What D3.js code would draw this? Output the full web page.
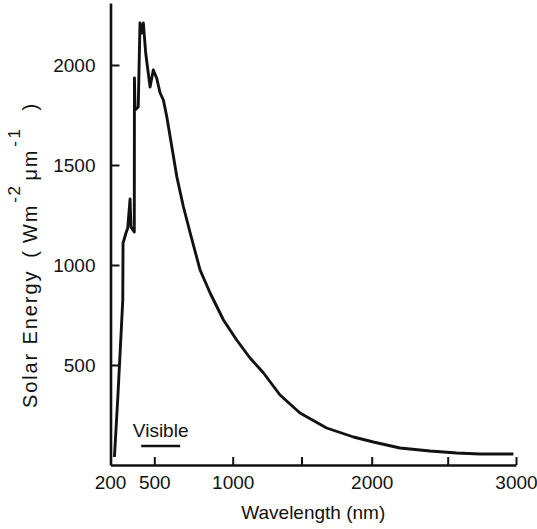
<!DOCTYPE html>
<html>
<head>
<meta charset="utf-8">
<script src="https://cdn.jsdelivr.net/npm/d3@7"></script>
<style>
  body { margin: 0; background: #fff; }
  text { font-family: "Liberation Sans", Arial, sans-serif; fill: #111; }
</style>
</head>
<body>
<div id="chart"></div>
<script>
// spectrum: wavelength (nm) and solar energy (W m-2 um-1)
let wavelength = [227, 251, 272, 284, 286, 306, 318, 334, 340, 363, 364, 368, 390, 402, 414, 425,
                  441, 471, 493, 515, 537, 558, 580, 612, 644, 686, 729, 792, 856, 941, 1029,
                  1126, 1224, 1344, 1489, 1679, 1870, 2011, 2186, 2384, 2566, 2737, 2981];
let energy = [40, 350, 650, 825, 1110, 1160, 1185, 1330, 1190, 1165, 1935, 1775, 1790, 2210, 2160, 2210,
              2060, 1890, 1975, 1935, 1860, 1825, 1740, 1590, 1440, 1290, 1160, 975, 860, 725, 625,
              535, 460, 350, 260, 185, 140, 115, 85, 70, 60, 55, 55];

let xTicks = [500, 1000, 1500, 2000, 2500, 3000];
let xLabels = [200, 500, 1000, 2000, 3000];
let yTicks = [500, 1000, 1500, 2000];
let visibleBand = [410, 665];
let visibleLevel = 95;

let width = 537, height = 529;

let svg = d3.select("#chart")
    .append("svg")
    .attr("width", width)
    .attr("height", height);

// the drawn axis is not quite even, so the scale follows the tick marks
let x = d3.scaleLinear()
    .domain([200, 500, 1000, 1500, 2000, 2500, 3000])
    .range([110.5, 154.3, 232.7, 301.5, 371.7, 447.7, 516]);

let y = d3.scaleLinear()
    .domain([0, 2310])
    .range([465, 3]);

let data = wavelength.map((w, i) => ({w: w, e: energy[i]}));

let xAxis = svg.append("g")
    .attr("transform", `translate(0,${y(0)})`)
    .call(d3.axisBottom(x)
        .tickValues(xTicks)
        .tickSizeInner(-8)
        .tickSizeOuter(0)
        .tickPadding(11)
        .tickFormat(d => xLabels.includes(d) ? d : ""));

// 200 sits at the corner without a tick
xAxis.append("text")
    .attr("x", x(200))
    .attr("y", 11)
    .attr("dy", "0.71em")
    .attr("text-anchor", "middle")
    .text("200");

let yAxis = svg.append("g")
    .attr("transform", `translate(${x(200)},0)`)
    .call(d3.axisLeft(y)
        .tickValues(yTicks)
        .tickSizeInner(-9)
        .tickSizeOuter(0)
        .tickPadding(15)
        .tickFormat(d => d));

svg.selectAll(".domain")
    .attr("stroke", "#111")
    .attr("stroke-width", 2.6);
svg.selectAll(".tick line")
    .attr("stroke", "#111")
    .attr("stroke-width", 2);
xAxis.selectAll("text")
    .style("font-size", "19px")
    .attr("fill", "#111");
yAxis.selectAll("text")
    .style("font-size", "19px")
    .attr("fill", "#111");

let line = d3.line()
    .x(d => x(d.w))
    .y(d => y(d.e));

svg.append("path")
    .datum(data)
    .attr("fill", "none")
    .attr("stroke", "#111")
    .attr("stroke-width", 2.9)
    .attr("stroke-linejoin", "round")
    .attr("d", line);

// visible band marker
svg.append("line")
    .attr("x1", x(visibleBand[0]))
    .attr("x2", x(visibleBand[1]))
    .attr("y1", y(visibleLevel))
    .attr("y2", y(visibleLevel))
    .attr("stroke", "#111")
    .attr("stroke-width", 2.4);

svg.append("text")
    .attr("x", (x(visibleBand[0]) + x(visibleBand[1])) / 2)
    .attr("y", y(visibleLevel) - 9)
    .style("text-anchor", "middle")
    .style("font-size", "19px")
    .text("Visible");

svg.append("text")
    .attr("x", (x(200) + x(3000)) / 2)
    .attr("y", 519)
    .style("text-anchor", "middle")
    .style("font-size", "19px")
    .text("Wavelength (nm)");

let yTitle = svg.append("text")
    .attr("transform", `translate(${37}, ${255}) rotate(-90)`)
    .style("text-anchor", "middle")
    .style("font-size", "20px")
    .style("letter-spacing", "1.9px");

yTitle.append("tspan").text("Solar Energy");
yTitle.append("tspan").attr("dx", 12).text("(");
yTitle.append("tspan").attr("dx", 6).text("Wm");
yTitle.append("tspan").attr("dx", 1).attr("dy", -17).style("font-size", "17px").style("letter-spacing", "1.5px").text("-2");
yTitle.append("tspan").attr("dx", 4).attr("dy", 17).text("\u03bcm");
yTitle.append("tspan").attr("dx", 2).attr("dy", -17).style("font-size", "17px").style("letter-spacing", "2.5px").text("-1");
yTitle.append("tspan").attr("dx", 16).attr("dy", 17).text(")");
</script>
</body>
</html>
